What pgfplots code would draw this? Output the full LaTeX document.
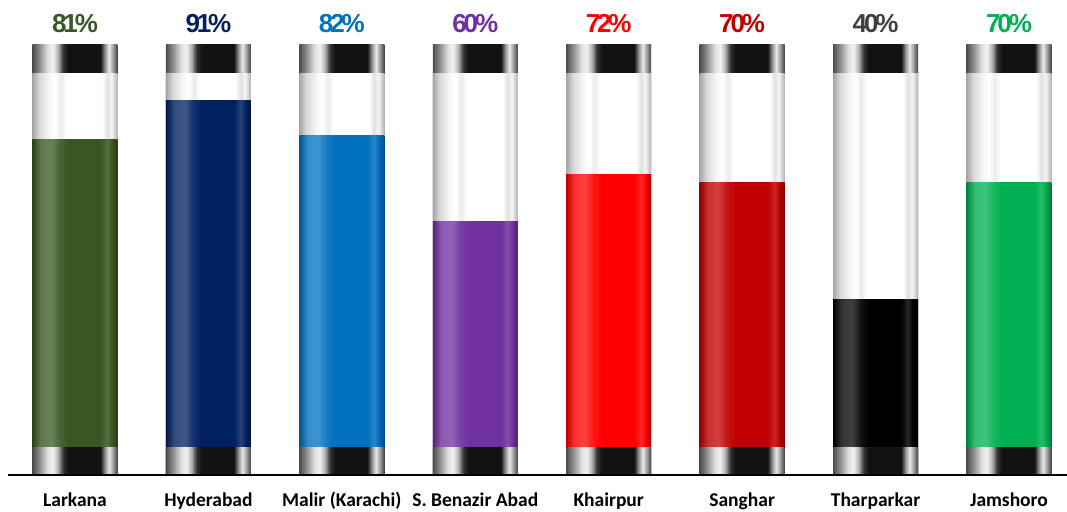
\documentclass[border=0pt]{standalone}
\usepackage{pgfplots}
\pgfplotsset{compat=1.18}
\usepackage{fontspec}
\setmainfont{Carlito}
\newfontfamily\pctfont[LetterSpace=-12]{Liberation Sans}
\definecolor{cLar}{RGB}{56,87,35}
\definecolor{cHyd}{RGB}{0,32,96}
\definecolor{cMal}{RGB}{0,112,192}
\definecolor{cSBA}{RGB}{112,48,160}
\definecolor{cKha}{RGB}{255,0,0}
\definecolor{cSan}{RGB}{192,0,0}
\definecolor{cTha}{RGB}{0,0,0}
\definecolor{cThaL}{RGB}{64,64,64}
\definecolor{cJam}{RGB}{0,176,80}
\pgfdeclarehorizontalshading{capshade}{100bp}{color(0bp)=(black!70); color(25bp)=(black!70); color(29bp)=(black!45); color(34bp)=(black!12); color(37bp)=(black!5); color(40bp)=(black!30); color(43bp)=(black!80); color(46bp)=(black!93); color(65bp)=(black!93); color(67.5bp)=(black!45); color(70bp)=(black!8); color(72.5bp)=(black!40); color(75bp)=(black!75); color(100bp)=(black!75)}
\pgfdeclarehorizontalshading{glassshade}{100bp}{color(0bp)=(black!35); color(25bp)=(black!35); color(29bp)=(black!15); color(35bp)=(black!3); color(38.5bp)=(white); color(41.5bp)=(black!8); color(45bp)=(white); color(66bp)=(white); color(69bp)=(black!12); color(71.5bp)=(black!4); color(75bp)=(black!30); color(100bp)=(black!30)}
\newcommand\mkfill[2]{\pgfdeclarehorizontalshading{#1}{100bp}{color(0bp)=(#2!75!black); color(25bp)=(#2!75!black); color(30bp)=(#2!80!white); color(36bp)=(#2!75!white); color(41bp)=(#2!92!white); color(46bp)=(#2); color(65bp)=(#2); color(69bp)=(#2!85!white); color(72bp)=(#2!95!black); color(75bp)=(#2!70!black); color(100bp)=(#2!70!black)}}
\mkfill{fLar}{cLar}
\mkfill{fHyd}{cHyd}
\mkfill{fMal}{cMal}
\mkfill{fSBA}{cSBA}
\mkfill{fKha}{cKha}
\mkfill{fSan}{cSan}
\mkfill{fTha}{cTha}
\mkfill{fJam}{cJam}
\pgfplotsset{barbase/.style={ybar, bar width=85pt, bar shift=0pt, draw=none, shade, y filter/.expression={y+5.128}}}
\begin{document}
\begin{tikzpicture}
\begin{axis}[name=ax, scale only axis, width=1059pt, height=475pt,
  xmin=-0.502, xmax=7.435, ymin=0, ymax=121.83, clip=false,
  axis x line*=bottom, axis y line=none, axis on top,
  x axis line style={line width=2pt, -},
  xtick={0,1,2,3,4,5,6,7}, major tick length=0pt, ytick=\empty,
  xticklabels={Larkana, Hyderabad, Malir (Karachi), S. Benazir Abad, Khairpur, Sanghar, Tharparkar, Jamshoro},
  xticklabel style={anchor=base, yshift=-31pt, font=\fontsize{19.5}{21}\selectfont\bfseries},
]
\pgfplotsinvokeforeach{0,1,2,3,4,5,6,7}{
  \addplot[barbase, shading=capshade] coordinates {(#1,105.4)};
  \addplot[barbase, shading=glassshade] coordinates {(#1,97.95)};
}
\addplot[barbase, shading=fLar] coordinates {(0,81)};
\addplot[barbase, shading=fHyd] coordinates {(1,91)};
\addplot[barbase, shading=fMal] coordinates {(2,82)};
\addplot[barbase, shading=fSBA] coordinates {(3,60)};
\addplot[barbase, shading=fKha] coordinates {(4,72)};
\addplot[barbase, shading=fSan] coordinates {(5,70)};
\addplot[barbase, shading=fTha] coordinates {(6,40)};
\addplot[barbase, shading=fJam] coordinates {(7,70)};
\pgfplotsinvokeforeach{0,1,2,3,4,5,6,7}{
  \addplot[barbase, shading=capshade] coordinates {(#1,2.05)};
}
\begin{scope}[every node/.style={font=\pctfont\fontsize{26}{28}\selectfont\bfseries, inner sep=0pt}]
\node[text=cLar] at (axis cs:0,115.7) {81\%};
\node[text=cHyd] at (axis cs:1,115.7) {91\%};
\node[text=cMal] at (axis cs:2,115.7) {82\%};
\node[text=cSBA] at (axis cs:3,115.7) {60\%};
\node[text=cKha] at (axis cs:4,115.7) {72\%};
\node[text=cSan] at (axis cs:5,115.7) {70\%};
\node[text=cThaL] at (axis cs:6,115.7) {40\%};
\node[text=cJam] at (axis cs:7,115.7) {70\%};
\end{scope}
\end{axis}
\pgfresetboundingbox
\path[use as bounding box] ([xshift=-8pt,yshift=-36pt]ax.south west) rectangle (ax.north east);
\end{tikzpicture}
\end{document}
